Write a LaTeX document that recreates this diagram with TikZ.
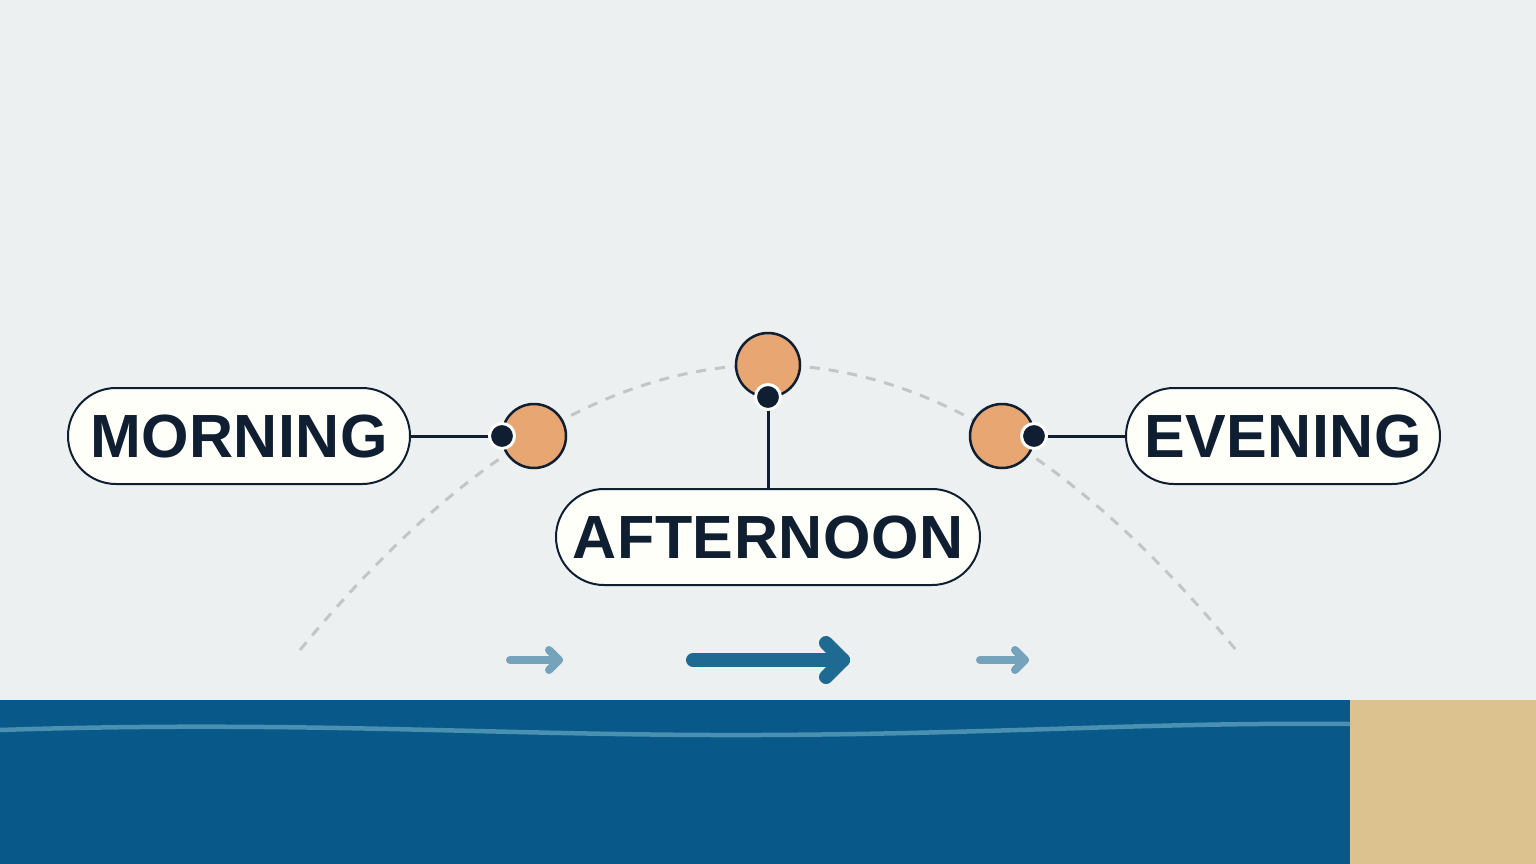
\documentclass[tikz,border=0pt]{standalone}
\usepackage{fontspec}
\setmainfont{Liberation Sans}
\definecolor{skybg}{HTML}{ECF0F0}
\definecolor{water}{HTML}{08598A}
\definecolor{wave}{HTML}{4A90B0}
\definecolor{sand}{HTML}{DCC28E}
\definecolor{pathgray}{HTML}{C2C6C6}
\definecolor{sunfill}{HTML}{E8A673}
\definecolor{ink}{HTML}{0F1E30}
\definecolor{labelfill}{HTML}{FFFFFA}
\definecolor{arrowlight}{HTML}{75A3BC}
\definecolor{arrowdark}{HTML}{1F6A93}
\begin{document}
\begin{tikzpicture}[x=1pt,y=-1pt,
    sun/.style={circle,draw=ink,line width=2.5pt,fill=sunfill,minimum size=64pt,inner sep=0pt},
    marker/.style={circle,draw=white,line width=3pt,fill=ink,minimum size=25pt,inner sep=0pt},
    timelabel/.style={draw=ink,line width=2pt,fill=labelfill,rounded corners=48pt,
      minimum height=96pt,inner sep=0pt,text=ink,
      font=\fontsize{61}{61}\selectfont\bfseries\addfontfeature{LetterSpace=0.8}},
    link/.style={draw=ink,line width=3pt}]
      \useasboundingbox (0,0) rectangle (1536,864);
      \fill[skybg] (0,0) rectangle (1536,864);

      %%%%%%%%%%%%%%%%%%%%%%%%%%%%%%%%%%%%%%%%%%%%%%%%%%%%%%%%%%%%%%%%%%%%%%%%%%%
      %%%%  Water and sand
      \fill[water] (0,700) rectangle (1350,864);
      \fill[sand] (1350,700) rectangle (1536,864);
      \draw[wave,line width=4.5pt] (0,730) .. controls (300,720) and (500,736) .. (760,735)
        .. controls (1000,734) and (1150,722) .. (1350,724);

      %%%%%%%%%%%%%%%%%%%%%%%%%%%%%%%%%%%%%%%%%%%%%%%%%%%%%%%%%%%%%%%%%%%%%%%%%%%
      %%%%  Path of the sun
      \draw[pathgray,line width=3pt,dash pattern=on 10pt off 9pt]
        (300,650) .. controls (612,270) and (924,270) .. (1236,650);

      %%%%%%%%%%%%%%%%%%%%%%%%%%%%%%%%%%%%%%%%%%%%%%%%%%%%%%%%%%%%%%%%%%%%%%%%%%%
      %%%%  Suns and labels
      \node[sun] (sunM) at (534,436) {};
      \node[sun] (sunA) at (768,365) {};
      \node[sun] (sunE) at (1002,436) {};

      \node[timelabel,minimum width=342pt] (morning) at (239,436) {MORNING};
      \node[timelabel,minimum width=424pt] (afternoon) at (768,537) {AFTERNOON};
      \node[timelabel,minimum width=314pt] (evening) at (1283,436) {EVENING};

      \coordinate (dotM) at (502,436);
      \coordinate (dotA) at (768,397);
      \coordinate (dotE) at (1034,436);

      \draw[link] (morning.east) -- (dotM);
      \draw[link] (afternoon.north) -- (dotA);
      \draw[link] (evening.west) -- (dotE);

      \foreach \d in {dotM,dotA,dotE}
       {\node[marker] at (\d) {};};

      %%%%%%%%%%%%%%%%%%%%%%%%%%%%%%%%%%%%%%%%%%%%%%%%%%%%%%%%%%%%%%%%%%%%%%%%%%%
      %%%%  Arrows
      \foreach \xa/\xb/\h/\w/\c in {510/559/10/8/arrowlight,693/843/17/14/arrowdark,980/1025/10/8/arrowlight}
       {\draw[\c,line width=\w pt,line cap=round,line join=round] (\xa,660) -- (\xb,660);
        \draw[\c,line width=\w pt,line cap=round,line join=round]
          (\xb-\h,660-\h) -- (\xb,660) -- (\xb-\h,660+\h);
       };
    \end{tikzpicture}
\end{document}
